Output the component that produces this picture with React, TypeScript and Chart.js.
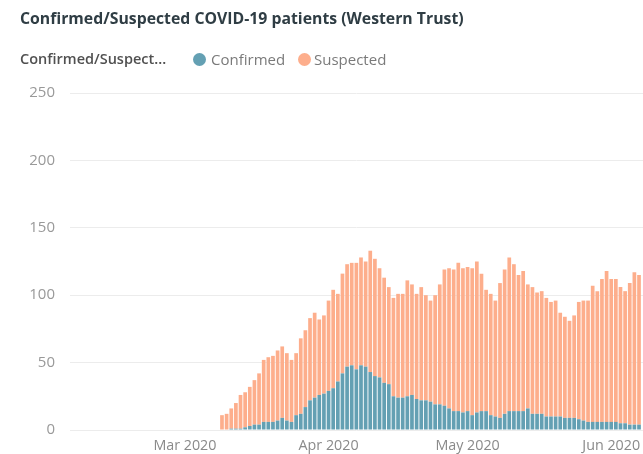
import React, { useEffect, useRef } from "react";
import { Chart, registerables } from "chart.js";

Chart.register(...registerables);

const titleText = "Confirmed/Suspected COVID-19 patients (Western Trust)";
const legendTitle = "Confirmed/Suspect...";
const seriesNames = ["Confirmed", "Suspected"];
const seriesColors = ["#64a0b3", "#fdae8c"];

// x values are days counted from 1 Mar 2020; the first bar is 9 Mar 2020
const firstDay = 8;

const confirmed = [
  0, 0, 1, 1, 1, 2, 3, 4, 4, 6,
  6, 6, 7, 9, 7, 6, 11, 12, 17, 22,
  24, 26, 27, 29, 31, 36, 42, 47, 48, 45,
  48, 47, 43, 40, 39, 35, 34, 25, 24, 24,
  25, 26, 23, 22, 22, 21, 19, 19, 18, 16,
  14, 14, 13, 14, 11, 13, 14, 14, 11, 10,
  9, 12, 14, 14, 14, 14, 16, 12, 12, 12,
  10, 10, 10, 10, 9, 9, 9, 8, 7, 6,
  6, 6, 6, 6, 6, 6, 5, 5, 4, 4,
  4,
];

const suspected = [
  11, 12, 15, 19, 25, 26, 29, 33, 38, 46,
  48, 49, 52, 53, 50, 46, 46, 56, 57, 61,
  63, 56, 58, 67, 73, 65, 74, 76, 76, 79,
  80, 78, 90, 87, 81, 78, 72, 73, 77, 77,
  86, 82, 78, 84, 78, 75, 81, 89, 101, 104,
  105, 110, 107, 107, 109, 112, 102, 90, 90, 86,
  100, 107, 114, 109, 101, 104, 92, 94, 90, 91,
  88, 85, 86, 77, 75, 72, 76, 87, 89, 90,
  101, 97, 106, 112, 106, 106, 101, 98, 105, 113,
  111,
];

const yTickValues = [0, 50, 100, 150, 200, 250];
const monthTickDays = [0, 31, 61, 92];
const monthTickLabels = ["Mar 2020", "Apr 2020", "May 2020", "Jun 2020"];
const xMinDay = -24.8;
const xMaxDay = 98.86;

export default function App() {
  const canvasRef = useRef<HTMLCanvasElement | null>(null);

  useEffect(() => {
    const canvas = canvasRef.current;
    if (!canvas) return;
    const series = [confirmed, suspected];
    const chart = new Chart(canvas, {
      type: "bar",
      data: {
        datasets: series.map((vals, si) => ({
          label: seriesNames[si],
          data: vals.map((v, i) => ({ x: firstDay + i, y: v })),
          backgroundColor: seriesColors[si],
          borderWidth: 0,
          categoryPercentage: 0.8,
          barPercentage: 1,
        })),
      },
      options: {
        animation: false,
        responsive: false,
        devicePixelRatio: 1,
        layout: { padding: { top: 93, left: 0, right: 0, bottom: 0 } },
        plugins: {
          legend: { display: false },
          title: { display: false },
          tooltip: { enabled: false },
        },
        scales: {
          x: {
            type: "linear",
            stacked: true,
            offset: false,
            min: xMinDay,
            max: xMaxDay,
            grid: { display: false, drawTicks: false },
            border: { display: false },
            afterBuildTicks: (s: any) => {
              s.ticks = monthTickDays.map((v) => ({ value: v }));
            },
            afterFit: (s: any) => {
              s.height = 24;
              s.paddingLeft = 0;
              s.paddingRight = 0;
            },
            ticks: {
              autoSkip: false,
              maxRotation: 0,
              padding: 7,
              color: "#8a8a8a",
              font: { family: "'Open Sans', sans-serif", size: 14.3 },
              callback: (v: any) => {
                const idx = monthTickDays.indexOf(Number(v));
                return idx >= 0 ? monthTickLabels[idx] : "";
              },
            },
          },
          y: {
            stacked: true,
            min: 0,
            max: 250,
            afterBuildTicks: (s: any) => {
              s.ticks = yTickValues.map((v) => ({ value: v }));
            },
            afterFit: (s: any) => {
              s.width = 70;
              s.paddingTop = 0;
              s.paddingBottom = 0;
            },
            grid: { color: "#ececec", drawTicks: false, lineWidth: 1 },
            border: { display: false },
            ticks: {
              padding: 15,
              color: "#999999",
              font: { family: "'Open Sans', sans-serif", size: 15 },
            },
          },
        },
      },
    });
    return () => chart.destroy();
  }, []);

  const dot = (color: string, left: number) => (
    <span
      style={{
        position: "absolute",
        left,
        top: 53,
        width: 13,
        height: 13,
        borderRadius: "50%",
        background: color,
      }}
    />
  );

  const textStyle: React.CSSProperties = {
    position: "absolute",
    whiteSpace: "nowrap",
    fontFamily: "'Open Sans', sans-serif",
    lineHeight: "20px",
  };

  return (
    <div
      style={{
        position: "fixed",
        left: 0,
        top: 0,
        width: 643,
        height: 454,
        background: "#ffffff",
        overflow: "hidden",
      }}
    >
      <canvas
        ref={canvasRef}
        width={643}
        height={454}
        style={{ position: "absolute", left: 0, top: 0, width: 643, height: 454 }}
      />
      <div
        style={{
          ...textStyle,
          left: 20,
          top: 8,
          fontSize: 15.8,
          fontWeight: 700,
          color: "#2f3d44",
        }}
      >
        {titleText}
      </div>
      <div
        style={{
          ...textStyle,
          left: 20,
          top: 49,
          fontSize: 14.5,
          fontWeight: 600,
          color: "#505050",
        }}
      >
        {legendTitle}
      </div>
      {dot(seriesColors[0], 193)}
      <div style={{ ...textStyle, left: 211, top: 49, fontSize: 15, color: "#7a7a7a" }}>
        {seriesNames[0]}
      </div>
      {dot(seriesColors[1], 298)}
      <div style={{ ...textStyle, left: 314, top: 49, fontSize: 15, color: "#7a7a7a" }}>
        {seriesNames[1]}
      </div>
    </div>
  );
}
